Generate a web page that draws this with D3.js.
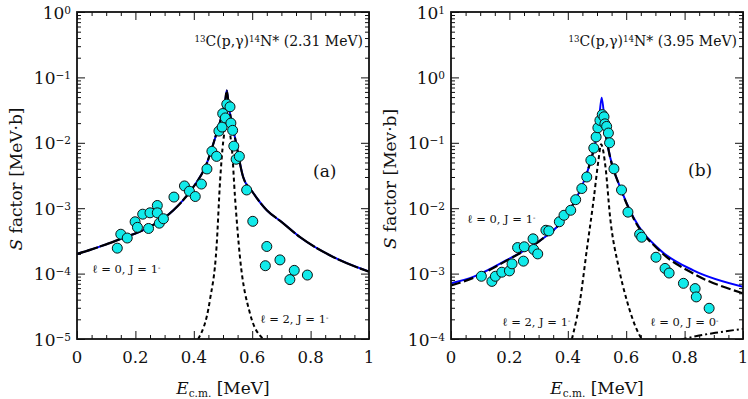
<!DOCTYPE html>
<html>
<head>
<meta charset="utf-8">
<script src="https://cdn.jsdelivr.net/npm/d3@7"></script>
<style>
  body { margin: 0; background: #fff; }
  svg { display: block; font-family: "DejaVu Serif", serif; }
  text { fill: #111; }
</style>
</head>
<body>
<svg id="chart" width="748" height="399"></svg>
<script>
// ---- data: [E (MeV), S (MeV b)] ----
const pointsA = [
  [0.138, 2.45e-4], [0.150, 4.0e-4], [0.172, 3.5e-4], [0.199, 6.2e-4], [0.207, 5.1e-4],
  [0.225, 8.1e-4], [0.245, 4.9e-4], [0.250, 8.5e-4], [0.275, 1.10e-3], [0.275, 8.5e-4],
  [0.282, 5.9e-4], [0.296, 6.9e-4], [0.332, 1.48e-3], [0.368, 2.19e-3], [0.385, 1.82e-3],
  [0.405, 1.51e-3], [0.426, 2.34e-3], [0.445, 3.98e-3], [0.462, 7.4e-3], [0.478, 6.2e-3],
  [0.486, 1.51e-2], [0.497, 1.74e-2], [0.499, 2.8e-2], [0.508, 2.4e-2], [0.513, 3.9e-2],
  [0.524, 3.55e-2], [0.527, 2.0e-2], [0.533, 1.55e-2], [0.537, 8.9e-3], [0.545, 5.6e-3],
  [0.556, 6.2e-3], [0.581, 1.9e-3], [0.602, 6.3e-4], [0.650, 2.6e-4], [0.645, 1.32e-4],
  [0.695, 1.62e-4], [0.744, 1.12e-4], [0.729, 8.1e-5], [0.789, 9.5e-5]
];
const totalA = [
  [0.00, 2.0e-4], [0.05, 2.35e-4], [0.10, 2.8e-4], [0.15, 3.4e-4], [0.216, 4.4e-4],
  [0.25, 5.2e-4], [0.33, 9.3e-4], [0.387, 1.8e-3], [0.444, 4.8e-3], [0.478, 1.4e-2],
  [0.49, 2.1e-2], [0.50, 3.1e-2], [0.507, 4.2e-2], [0.513, 6.3e-2], [0.52, 3.6e-2],
  [0.53, 2.0e-2], [0.541, 1.2e-2], [0.569, 3.0e-3], [0.60, 1.8e-3], [0.65, 9.3e-4],
  [0.70, 6.2e-4], [0.764, 3.6e-4], [0.877, 1.8e-4], [1.00, 1.07e-4]
];
const l2A = [
  [0.415, 1.0e-5], [0.455, 3.9e-5], [0.478, 2.6e-4], [0.49, 2.6e-3], [0.501, 1.07e-2],
  [0.513, 1.95e-2], [0.53, 8.5e-3], [0.541, 1.5e-3], [0.558, 1.8e-4], [0.592, 2.5e-5],
  [0.638, 1.0e-5]
];

const pointsB = [
  [0.104, 9.1e-4], [0.140, 7.6e-4], [0.152, 9.1e-4], [0.174, 1.05e-3], [0.200, 1.10e-3],
  [0.209, 1.41e-3], [0.248, 1.55e-3], [0.228, 2.5e-3], [0.251, 2.57e-3], [0.281, 3.4e-3],
  [0.283, 2.34e-3], [0.297, 2.0e-3], [0.325, 4.6e-3], [0.335, 4.5e-3], [0.371, 6.2e-3],
  [0.387, 7.8e-3], [0.410, 9.3e-3], [0.427, 1.35e-2], [0.448, 2.0e-2], [0.465, 3.0e-2],
  [0.479, 5.4e-2], [0.489, 8.3e-2], [0.497, 0.123], [0.503, 0.17], [0.510, 0.22],
  [0.518, 0.27], [0.524, 0.25], [0.527, 0.195], [0.533, 0.178], [0.539, 0.141],
  [0.543, 0.100], [0.558, 0.040], [0.584, 0.019], [0.606, 8.7e-3], [0.646, 4.0e-3],
  [0.653, 3.6e-3], [0.702, 1.78e-3], [0.733, 1.20e-3], [0.747, 1.02e-3], [0.796, 7.1e-4],
  [0.836, 5.9e-4], [0.840, 4.4e-4], [0.884, 2.95e-4]
];
const totalB = [
  [0.00, 7.1e-4], [0.076, 8.9e-4], [0.19, 1.6e-3], [0.305, 3.2e-3], [0.373, 5.8e-3],
  [0.419, 1.17e-2], [0.465, 3.4e-2], [0.488, 7.6e-2], [0.505, 0.18], [0.516, 0.49],
  [0.53, 0.14], [0.545, 6.0e-2], [0.579, 2.1e-2], [0.625, 7.2e-3], [0.716, 2.3e-3],
  [0.83, 1.12e-3], [1.00, 6.3e-4]
];
const fitB = [
  [0.00, 6.6e-4], [0.076, 8.6e-4], [0.19, 1.58e-3], [0.305, 3.2e-3], [0.373, 5.8e-3],
  [0.419, 1.17e-2], [0.465, 3.4e-2], [0.488, 7.6e-2], [0.505, 0.17], [0.516, 0.30],
  [0.53, 0.13], [0.545, 6.0e-2], [0.579, 2.1e-2], [0.625, 7.0e-3], [0.716, 2.2e-3],
  [0.83, 1.0e-3], [1.00, 5.0e-4]
];
const l2B = [
  [0.414, 1.0e-4], [0.419, 1.23e-4], [0.442, 3.9e-4], [0.465, 2.3e-3], [0.488, 1.3e-2],
  [0.505, 5.4e-2], [0.514, 9.5e-2], [0.529, 4.3e-2], [0.545, 7.2e-3], [0.574, 1.26e-3],
  [0.602, 3.9e-4], [0.636, 1.4e-4], [0.653, 1.0e-4]
];
const l0J0B = [[0.78, 9.6e-5], [0.85, 1.13e-4], [0.92, 1.27e-4], [1.00, 1.43e-4]];

const xTicks = [0, 0.2, 0.4, 0.6, 0.8, 1];

// ---- layout ----
const svg = d3.select("#chart");
const plotW = 292, plotTop = 12, plotBottom = 339;

function supText(sel, parts) {
  // parts: [text, kind] where kind is "", "sup", "sub" or "it"
  parts.forEach(([t, kind]) => {
    const ts = sel.append("tspan").text(t);
    if (kind === "sup") ts.attr("font-size", "0.62em").attr("baseline-shift", "45%");
    if (kind === "sub") ts.attr("font-size", "0.62em").attr("baseline-shift", "-25%");
    if (kind === "it") ts.attr("font-style", "italic");
  });
}

function drawPanel(opt) {
  const g = svg.append("g").attr("transform", `translate(${opt.left},0)`);
  const x = d3.scaleLinear().domain([0, 1]).range([0, plotW]);
  const y = d3.scaleLog().domain(opt.yDomain).range([plotBottom, plotTop]);

  const clipId = "clip" + opt.name;
  g.append("clipPath").attr("id", clipId)
    .append("rect").attr("x", 0).attr("y", plotTop).attr("width", plotW).attr("height", plotBottom - plotTop);

  const decades = d3.range(Math.log10(opt.yDomain[0]), Math.log10(opt.yDomain[1]) + 1).map(p => Math.pow(10, p));
  const minorY = [];
  decades.slice(0, -1).forEach(d => { for (let k = 2; k <= 9; k++) minorY.push(d * k); });
  const minorX = d3.range(0, 1.0001, 0.05).filter(v => Math.abs(v * 5 - Math.round(v * 5)) > 1e-6);

  // ticks, all inward
  const axes = [
    [d3.axisBottom(x).tickValues(xTicks).tickSize(-8).tickFormat(""), `translate(0,${plotBottom})`],
    [d3.axisBottom(x).tickValues(minorX).tickSize(-4).tickFormat(""), `translate(0,${plotBottom})`],
    [d3.axisTop(x).tickValues(xTicks).tickSize(-8).tickFormat(""), `translate(0,${plotTop})`],
    [d3.axisTop(x).tickValues(minorX).tickSize(-4).tickFormat(""), `translate(0,${plotTop})`],
    [d3.axisLeft(y).tickValues(decades).tickSize(-8).tickFormat(""), "translate(0,0)"],
    [d3.axisLeft(y).tickValues(minorY).tickSize(-4).tickFormat(""), "translate(0,0)"],
    [d3.axisRight(y).tickValues(decades).tickSize(-8).tickFormat(""), `translate(${plotW},0)`],
    [d3.axisRight(y).tickValues(minorY).tickSize(-4).tickFormat(""), `translate(${plotW},0)`]
  ];
  axes.forEach(([ax, tr]) => {
    const a = g.append("g").attr("transform", tr).call(ax);
    a.select(".domain").remove();
    a.selectAll(".tick line").attr("stroke", "#111").attr("stroke-width", 1);
  });

  // tick labels
  g.selectAll(".xlab").data(xTicks).join("text")
    .attr("x", d => x(d)).attr("y", 363)
    .attr("text-anchor", "middle").attr("font-size", 16.5)
    .text(d3.format("~g"));
  g.selectAll(".ylab").data(decades).join("text")
    .attr("x", -6).attr("y", d => y(d) + 6.5)
    .attr("text-anchor", "end").attr("font-size", 17)
    .each(function (d) {
      const p = Math.round(Math.log10(d));
      supText(d3.select(this), [["10", ""], [p < 0 ? "\u2212" + (-p) : String(p), "sup"]]);
    });

  // curves
  const line = d3.line().x(d => x(d[0])).y(d => y(d[1])).curve(d3.curveMonotoneX);
  const plot = g.append("g").attr("clip-path", `url(#${clipId})`);
  opt.curves.forEach(c => {
    plot.append("path").attr("d", line(c.data)).attr("fill", "none")
      .attr("stroke", c.color).attr("stroke-width", c.width)
      .attr("stroke-dasharray", c.dash || null);
  });

  // data points
  plot.selectAll("circle").data(opt.points).join("circle")
    .attr("cx", d => x(d[0])).attr("cy", d => y(d[1])).attr("r", 5)
    .attr("fill", "#11eaea").attr("stroke", "#111").attr("stroke-width", 1);

  // frame
  g.append("rect").attr("x", 0).attr("y", plotTop).attr("width", plotW).attr("height", plotBottom - plotTop)
    .attr("fill", "none").attr("stroke", "#111").attr("stroke-width", 1.8);

  // texts
  supText(g.append("text").attr("x", plotW - 6).attr("y", 46).attr("text-anchor", "end").attr("font-size", 14),
    [["13", "sup"], ["C(p,\u03b3)", ""], ["14", "sup"], [`N* (${opt.state})`, ""]]);
  g.append("text").attr("x", opt.tag[1]).attr("y", opt.tag[2]).attr("font-size", 17).text(opt.tag[0]);
  opt.labels.forEach(([lx, ly, parts]) => {
    supText(g.append("text").attr("x", lx).attr("y", ly).attr("font-size", 11.5), parts);
  });

  // axis titles
  supText(g.append("text").attr("x", plotW / 2).attr("y", 394).attr("text-anchor", "middle").attr("font-size", 17),
    [["E", "it"], ["c.m.", "sub"], [" [MeV]", ""]]);
  supText(g.append("text").attr("transform", `translate(-55,179) rotate(-90)`)
    .attr("text-anchor", "middle").attr("font-size", 17),
    [["S", "it"], [` factor [${opt.unit}\u00b7b]`, ""]]);
}

drawPanel({
  name: "a", left: 77, yDomain: [1e-5, 1], state: "2.31 MeV", unit: "MeV",
  tag: ["(a)", 236, 177],
  points: pointsA,
  curves: [
    { data: totalA, color: "#0000ff", width: 2 },
    { data: totalA, color: "#000", width: 2.2, dash: "22,2" },
    { data: l2A, color: "#000", width: 2, dash: "4,3" }
  ],
  labels: [
    [15, 273, [["\u2113 = 0, J = 1", ""], ["-", "sup"]]],
    [183, 323, [["\u2113 = 2, J = 1", ""], ["-", "sup"]]]
  ]
});

drawPanel({
  name: "b", left: 451, yDomain: [1e-4, 10], state: "3.95 MeV", unit: "Mev",
  tag: ["(b)", 237, 176],
  points: pointsB,
  curves: [
    { data: totalB, color: "#0000ff", width: 2 },
    { data: fitB, color: "#000", width: 2.2, dash: "10,3.5" },
    { data: l2B, color: "#000", width: 2, dash: "4,3" },
    { data: l0J0B, color: "#000", width: 2, dash: "8,3,2,3" }
  ],
  labels: [
    [16, 223, [["\u2113 = 0, J = 1", ""], ["-", "sup"]]],
    [51, 326, [["\u2113 = 2, J = 1", ""], ["-", "sup"]]],
    [199, 326, [["\u2113 = 0, J = 0", ""], ["-", "sup"]]]
  ]
});
</script>
</body>
</html>
